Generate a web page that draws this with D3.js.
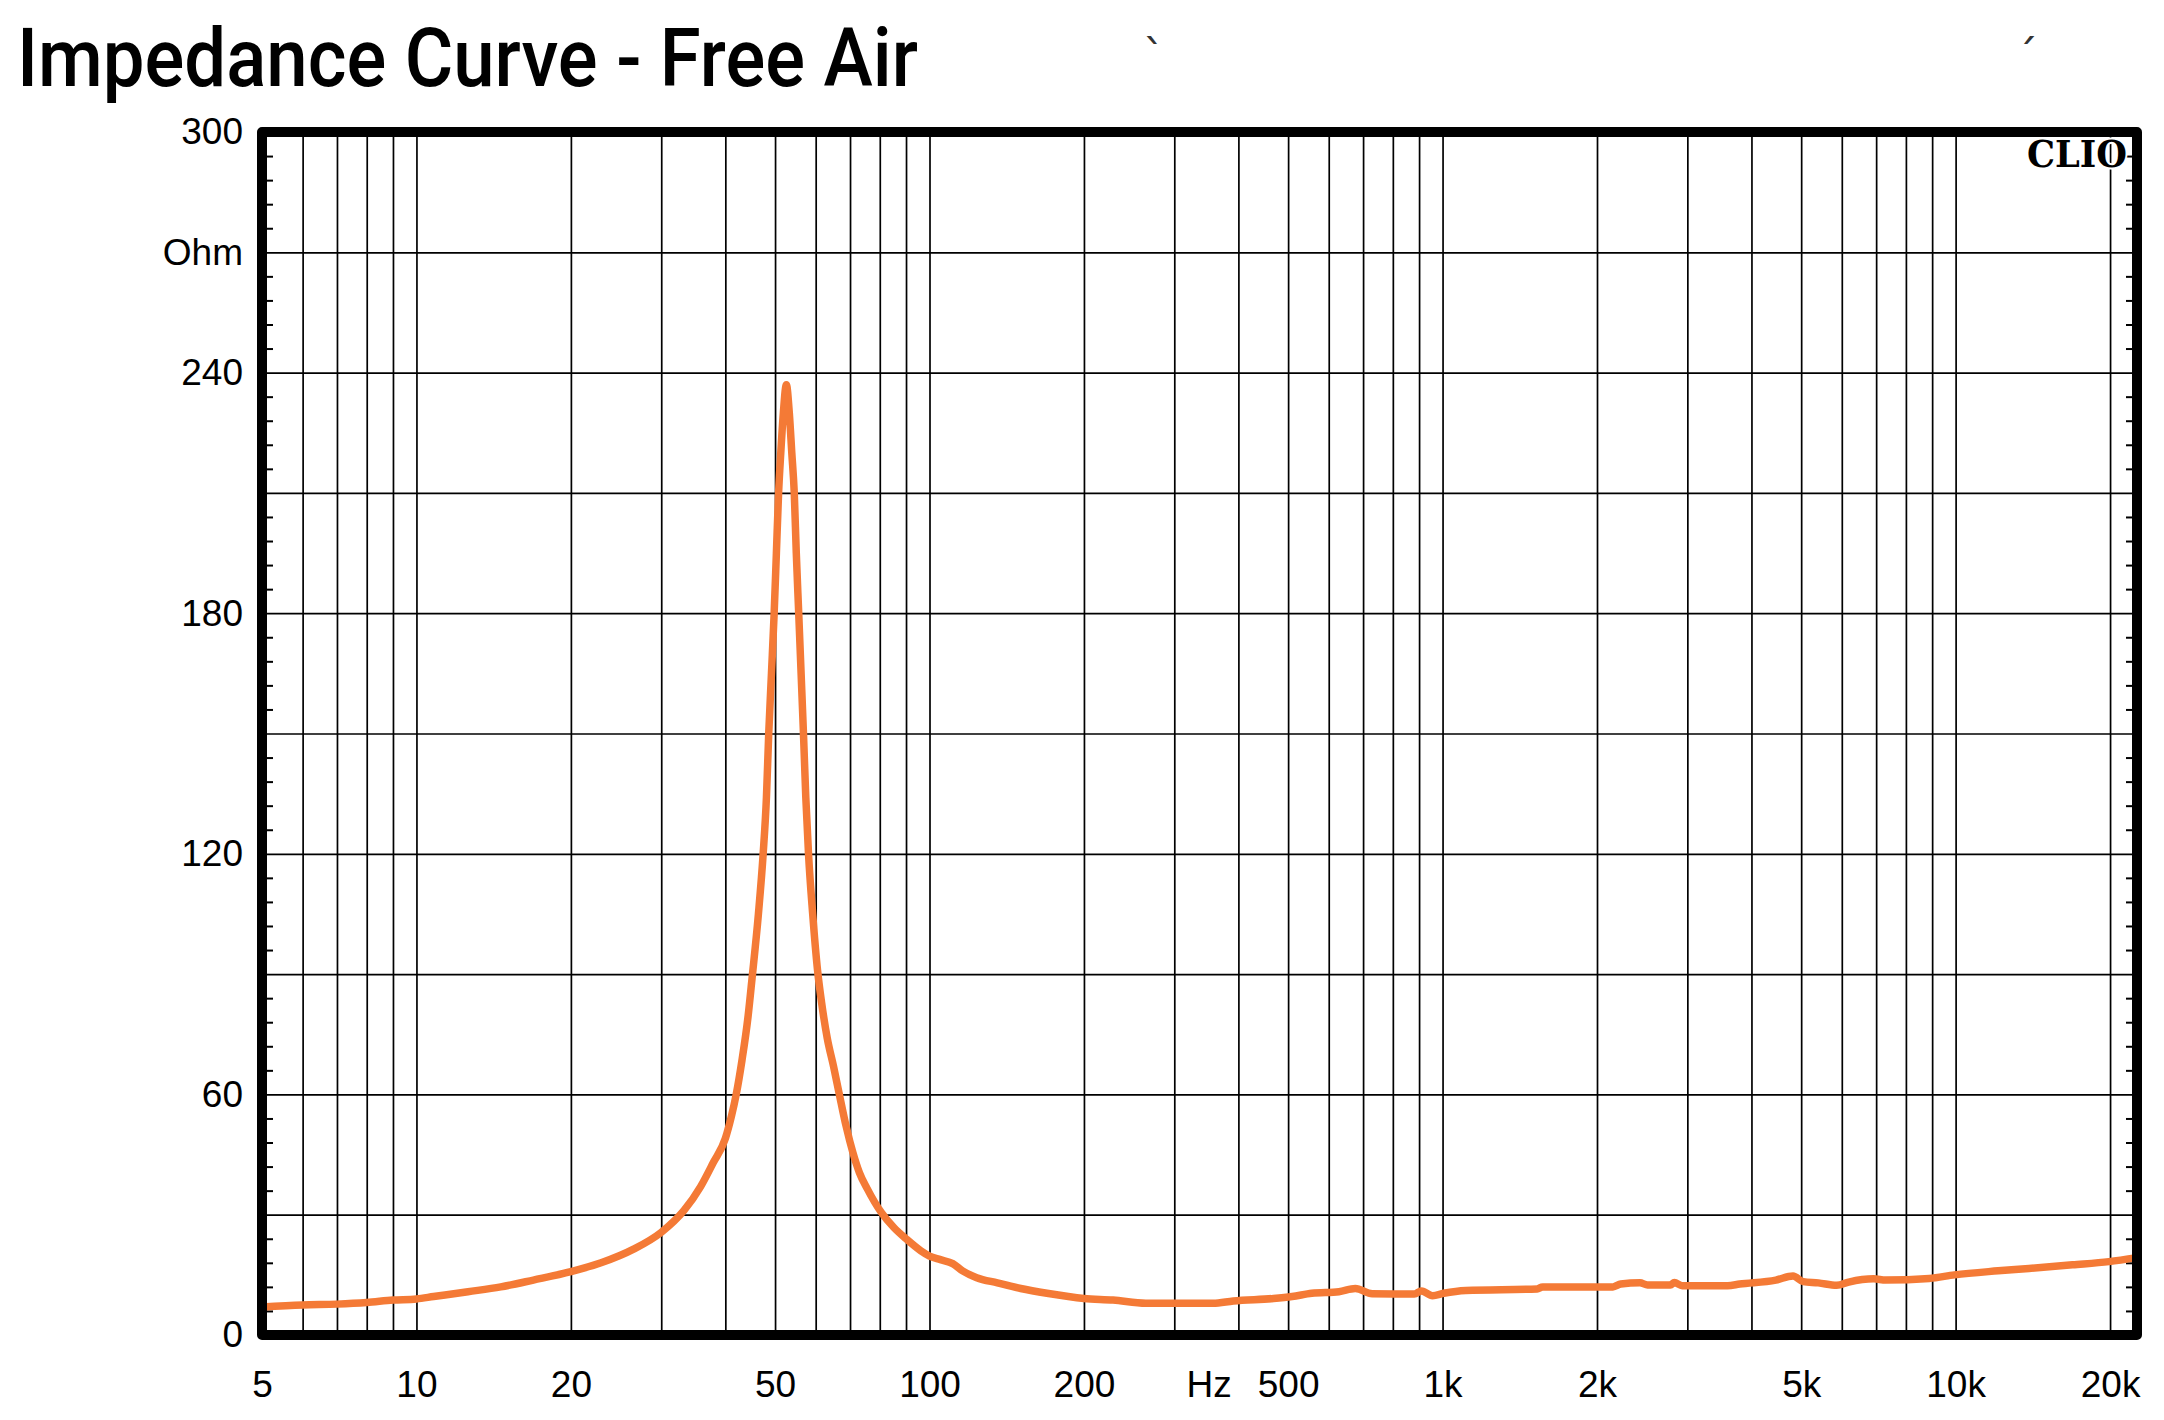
<!DOCTYPE html>
<html><head><meta charset="utf-8">
<script src="https://cdn.jsdelivr.net/npm/d3@7"></script>
<style>
html,body{margin:0;padding:0;background:#fff;}
svg{display:block;}
</style></head>
<body>
<script>
// ---- data ----
const freqs = [5,6,7,8,9,10,10.8,12.6,14.6,16.9,20,22.9,26.5,30,33.2,35.8,37.9,40,41.1,42,43.1,44.3,45.1,46.4,47.4,48.1,48.6,49.2,49.8,50.3,50.8,51.3,51.9,52.6,53.3,53.9,54.5,55.0,55.6,56.2,56.8,57.4,58.1,59.2,60.5,61.6,63.2,65.0,66.6,68.8,70.9,73,75.6,80.6,85.2,90,96.2,100,105,111,116,123.6,135.6,150.6,169.4,200,228,264,300,357,391,468,509,556,628,676,729,881,910,956,1005,1110,1529,1567,2148,2225,2425,2509,2781,2830,2931,3593,3793,4463,4820,5046,5400,5864,6190,6922,7310,8885,9950,12100,13900,16900,19900,22570];
const ohms  = [7.0,7.5,7.7,8.1,8.7,9.0,9.6,10.8,12.0,13.7,15.8,18.0,21.4,25.6,31.0,37.0,43.0,49.0,54.5,60.0,68.5,79.5,89.0,105,120,134,150,165,180,195,210,220,230,237,230,220,210,195,180,165,150,134,120,105,91,83,74,67,60.5,52,45.5,40.5,36.5,30.5,26.8,24.0,21.0,19.7,18.8,17.8,16.0,14.3,13.0,11.6,10.4,9.1,8.7,7.9,7.9,7.9,8.5,9.1,9.6,10.4,10.8,11.6,10.3,10.2,11.0,9.8,10.4,11.1,11.5,12.0,12.0,12.7,13.0,12.5,12.5,13.1,12.3,12.3,12.7,13.7,14.7,13.3,13.0,12.4,13.2,14.0,13.7,14.1,15.0,16.0,16.6,17.5,18.3,19.3];

const xTickValues = [5,10,20,50,100,200,350,500,1000,2000,5000,10000,20000];
const xTickLabels = ["5","10","20","50","100","200","Hz","500","1k","2k","5k","10k","20k"];
const yTickValues = [0,60,120,180,240,270,300];
const yTickLabels = ["0","60","120","180","240","Ohm","300"];
const xDomain = [5, 22570];
const yDomain = [0, 300];
const titleText = "Impedance Curve - Free Air";

// ---- layout ----
const W = 2164, H = 1420;
const L = 262, R = 2137, T = 132, B = 1335;

const svg = d3.select("body").append("svg").attr("width", W).attr("height", H);

const x = d3.scaleLog().domain(xDomain).range([L, R]);
const y = d3.scaleLinear().domain(yDomain).range([B, T]);

// vertical grid lines (1..9 x decade)
const vGrid = [];
for (let e = 0; e <= 4; e++) for (let k = 1; k <= 9; k++) {
  const f = k * Math.pow(10, e);
  if (f > xDomain[0] && f < xDomain[1]) vGrid.push(f);
}
svg.append("g").attr("transform", `translate(0,${B})`)
  .call(d3.axisBottom(x).tickValues(vGrid).tickSize(-(B - T)).tickFormat(""))
  .call(g => g.select(".domain").remove())
  .call(g => g.selectAll("line").attr("stroke", "#000").attr("stroke-width", 1.7));

// horizontal grid lines every 30
const hGrid = d3.range(30, 300, 30);
svg.append("g").attr("transform", `translate(${L},0)`)
  .call(d3.axisLeft(y).tickValues(hGrid).tickSize(-(R - L)).tickFormat(""))
  .call(g => g.select(".domain").remove())
  .call(g => g.selectAll("line").attr("stroke", "#000").attr("stroke-width", 1.7));

// minor ticks every 6 ohm on both sides
const minor = d3.range(6, 300, 6).filter(v => v % 30 !== 0);
svg.append("g").attr("transform", `translate(${L},0)`)
  .call(d3.axisRight(y).tickValues(minor).tickSize(11).tickFormat(""))
  .call(g => g.select(".domain").remove())
  .call(g => g.selectAll("line").attr("stroke", "#000").attr("stroke-width", 2));
svg.append("g").attr("transform", `translate(${R},0)`)
  .call(d3.axisLeft(y).tickValues(minor).tickSize(11).tickFormat(""))
  .call(g => g.select(".domain").remove())
  .call(g => g.selectAll("line").attr("stroke", "#000").attr("stroke-width", 2));

// curve
const pts = freqs.map((f, i) => [f, ohms[i]]);
svg.append("path")
  .datum(pts)
  .attr("fill", "none")
  .attr("stroke", "#F47A36")
  .attr("stroke-width", 7.5)
  .attr("stroke-linejoin", "round")
  .attr("stroke-linecap", "round")
  .attr("d", d3.line().x(d => x(d[0])).y(d => y(d[1])).curve(d3.curveMonotoneX));

// frame
svg.append("rect")
  .attr("x", L).attr("y", T).attr("width", R - L).attr("height", B - T)
  .attr("fill", "none").attr("stroke", "#000").attr("stroke-width", 10)
  .attr("stroke-linejoin", "round");

// y labels
svg.append("g").attr("transform", `translate(${L},0)`)
  .call(d3.axisLeft(y).tickValues(yTickValues).tickSize(0).tickPadding(19)
    .tickFormat((d, i) => yTickLabels[i]))
  .call(g => g.select(".domain").remove())
  .call(g => g.selectAll("text")
    .attr("font-family", "'Liberation Sans', Arial, sans-serif")
    .attr("font-size", 37).attr("fill", "#000"));

// x labels
svg.append("g").attr("transform", `translate(0,${B})`)
  .call(d3.axisBottom(x).tickValues(xTickValues).tickSize(0).tickPadding(36)
    .tickFormat((d, i) => xTickLabels[i]))
  .call(g => g.select(".domain").remove())
  .call(g => g.selectAll("text")
    .attr("font-family", "'Liberation Sans', Arial, sans-serif")
    .attr("font-size", 37).attr("fill", "#000"));

// title
svg.append("text")
  .attr("x", 17).attr("y", 86)
  .attr("font-family", "Roboto, 'DejaVu Sans', sans-serif")
  .attr("font-weight", 500)
  .attr("font-size", 82)
  .attr("textLength", 901).attr("lengthAdjust", "spacingAndGlyphs")
  .attr("fill", "#000")
  .text(titleText);

// CLIO mark
svg.append("text")
  .attr("x", 2127).attr("y", 167)
  .attr("text-anchor", "end")
  .attr("font-family", "'DejaVu Serif', 'Liberation Serif', serif")
  .attr("font-weight", "bold")
  .attr("font-size", 38)
  .attr("textLength", 100).attr("lengthAdjust", "spacingAndGlyphs")
  .attr("fill", "#000")
  .attr("stroke", "#fff").attr("stroke-width", 4).attr("paint-order", "stroke")
  .text("CLIO");

// stray marks at top
svg.append("text").attr("x", 1154).attr("y", 72).attr("text-anchor", "middle")
  .attr("font-family", "'DejaVu Sans', sans-serif").attr("font-size", 44).attr("fill", "#333").text("`");
svg.append("text").attr("x", 2027).attr("y", 72).attr("text-anchor", "middle")
  .attr("font-family", "'DejaVu Sans', sans-serif").attr("font-size", 44).attr("fill", "#333").text("´");
</script>
</body></html>
